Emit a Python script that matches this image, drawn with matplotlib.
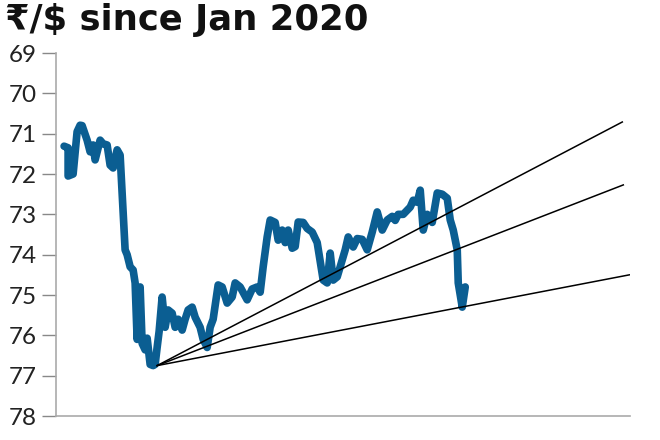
import matplotlib.pyplot as plt

# day index (trading days from Jan 2020) and rupee per dollar
days = [8, 12, 12, 17, 21, 24, 26, 31, 34, 37, 39, 44, 47, 51, 54, 57, 61, 64, 69, 71,
        74, 77, 79, 81, 84, 86, 89, 91, 94, 97, 99, 101, 103, 106, 109, 112, 116, 119,
        122, 126, 129, 132, 136, 139, 144, 147, 151, 154, 157, 162, 166, 171, 176, 179,
        184, 191, 196, 201, 204, 207, 211, 214, 219, 222, 226, 229, 232, 236, 239, 242,
        247, 251, 256, 261, 267, 271, 274, 277, 281, 284, 289, 292, 297, 301, 306, 311,
        316, 321, 326, 331, 336, 339, 342, 347, 354, 357, 361, 364, 367, 371, 376, 381,
        386, 391, 394, 397, 401, 402, 406, 409]
rate = [71.31, 71.35, 72.05, 72.0, 70.95, 70.79, 70.8, 71.16, 71.45, 71.28, 71.65,
        71.16, 71.25, 71.28, 71.78, 71.85, 71.4, 71.53, 73.88, 74.0, 74.3, 74.38,
        74.7, 76.1, 74.8, 76.2, 76.36, 76.07, 76.72, 76.75, 76.72, 76.3, 75.9, 75.05,
        75.8, 75.37, 75.45, 75.8, 75.6, 75.87, 75.6, 75.37, 75.3, 75.55, 75.8, 76.1,
        76.3, 75.8, 75.6, 74.75, 74.8, 75.2, 75.05, 74.7, 74.8, 75.12, 74.85, 74.8,
        74.93, 74.3, 73.56, 73.14, 73.2, 73.64, 73.39, 73.7, 73.39, 73.84, 73.8, 73.19,
        73.2, 73.35, 73.44, 73.7, 74.63, 74.7, 73.96, 74.63, 74.55, 74.3, 73.88, 73.56,
        73.81, 73.6, 73.62, 73.88, 73.44, 72.94, 73.39, 73.14, 73.05, 73.15, 73.0,
        73.0, 72.82, 72.65, 72.7, 72.4, 73.39, 73.0, 73.2, 72.47, 72.5, 72.6, 73.14,
        73.39, 73.88, 74.7, 75.3, 74.8]

# three support lines fanning out from the 2020 low
trend_start = (101, 76.75)
trend_ends_x = [566, 567, 573]
trend_ends_y = [70.71, 72.27, 74.5]

fig = plt.figure(figsize=(6.6, 4.4), dpi=100)
ax = fig.add_axes([0.085, 0.0545, 0.87, 0.825])

ax.plot(days, rate, color='#0b5e92', linewidth=5.5, solid_joinstyle='round',
        solid_capstyle='round', zorder=3)
for ex, ey in zip(trend_ends_x, trend_ends_y):
    ax.plot([trend_start[0], ex], [trend_start[1], ey], color='black', linewidth=1.1, zorder=4)

ax.set_xlim(0, 574)
ax.set_ylim(78, 69)
ax.set_yticks(range(69, 79))
ax.set_xticks([])
for s in ['top', 'right']:
    ax.spines[s].set_visible(False)
for s in ['left', 'bottom']:
    ax.spines[s].set_color('#aaaaaa')
    ax.spines[s].set_linewidth(1.2)
ax.tick_params(axis='y', length=10, width=1, color='#888888', pad=4,
               labelsize=17.5, labelcolor='#222222')
for lab in ax.get_yticklabels():
    lab.set_family(['Lato', 'DejaVu Sans'])

fig.text(0.008, 0.932, '₹/$ since Jan 2020', fontsize=25.5, fontweight='bold',
         family=['DejaVu Sans'], color='#111111', va='baseline')

fig.savefig('out.png', dpi=100)
